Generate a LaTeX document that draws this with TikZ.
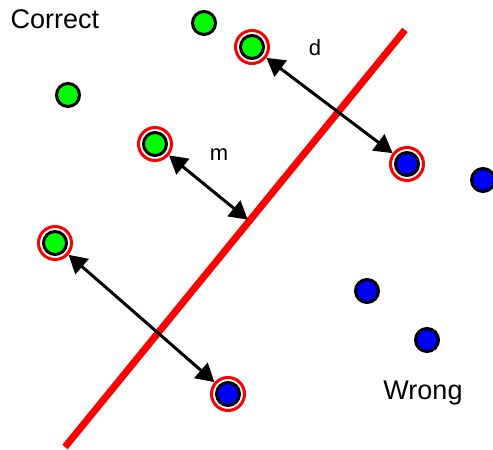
\documentclass[tikz,border=0pt]{standalone}
\usepackage{fontspec}
\setmainfont{Liberation Sans}
\usetikzlibrary{arrows.meta,calc}
\begin{document}
\begin{tikzpicture}[x=1pt,y=-1pt,
  dot/.style={circle,draw=black,line width=3pt,inner sep=0pt,minimum size=23pt},
  gdot/.style={dot,fill=green},
  bdot/.style={dot,fill=blue},
  ring/.style={circle,draw=red,line width=3pt,inner sep=0pt,minimum size=33pt},
  sep/.style={draw=red,line width=7pt},
  dist/.style={draw=black,line width=3pt,{Triangle[length=18pt,width=20pt]}-{Triangle[length=18pt,width=20pt]}},
  lbl/.style={font=\fontsize{22}{26}\selectfont},
  big/.style={font=\fontsize{27}{32}\selectfont}]
\useasboundingbox (0,0) rectangle (493,450);
% separating line
\coordinate (la) at (65,447);
\coordinate (lb) at (405,30);
\draw[sep] (la) -- (lb);
% green points
\node[gdot] (g1) at (204,23) {};
\node[gdot] (g2) at (252,47) {};
\node[ring] (r2) at (252,47) {};
\node[gdot] (g3) at (68,95) {};
\node[gdot] (g4) at (155,144) {};
\node[ring] (r4) at (155,144) {};
\node[gdot] (g5) at (55,243) {};
\node[ring] (r5) at (55,243) {};
% blue points
\node[bdot] (b1) at (407,164) {};
\node[ring] (s1) at (407,164) {};
\node[bdot] (b2) at (483,180) {};
\node[bdot] (b3) at (367,291) {};
\node[bdot] (b4) at (427,340) {};
\node[bdot] (b5) at (228,394) {};
\node[ring] (s5) at (228,394) {};
% foot of perpendicular
\coordinate (foot) at ($(la)!(r4.center)!(lb)$);
% arrows
\draw[dist] (r2) -- (s1);
\draw[dist,shorten >=2pt] (r4) -- (foot);
\draw[dist] (r5) -- (s5);
% labels
\node[lbl] (d) at (315,48) {d};
\node[lbl] (m) at (219,155) {m};
\node[big] (correct) at (55,19) {Correct};
\node[big] (wrong) at (423,393) {Wrong};
\end{tikzpicture}
\end{document}
